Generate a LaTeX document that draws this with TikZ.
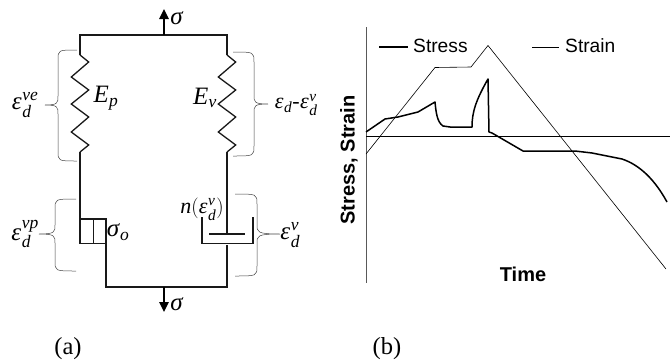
\documentclass[tikz,border=0pt]{standalone}
\usepackage{amsmath}
\usepackage{mathspec}
\setmainfont{Liberation Serif}
\setsansfont{Liberation Sans}
\setmathsfont(Latin,Greek)[Lowercase=Italic,Uppercase=Italic]{Liberation Serif}
\usetikzlibrary{arrows.meta}
\tikzset{
    rail/.style={line width=1.3pt, draw=black!90, line join=miter},
    pull/.style={line width=1.4pt, -{Triangle[width=9.5pt,length=10pt]}},
    curly/.style={line width=0.5pt, draw=black!75},
    symb/.style={inner sep=0pt, font=\fontsize{25}{25}\selectfont},
    symbsmall/.style={inner sep=0pt, font=\fontsize{22}{22}\selectfont},
    capt/.style={inner sep=0pt, font=\fontsize{24.5}{25}\selectfont},
    legend/.style={inner sep=0pt, font=\sffamily\fontsize{19.2}{19}\selectfont},
    axlabel/.style={inner sep=0pt, font=\sffamily\bfseries\fontsize{20}{20}\selectfont},
    stress/.style={line width=1.5pt, line join=round},
    strain/.style={line width=0.6pt},
    axisline/.style={line width=0.8pt, draw=black!65}
}
% end of the brace x, spine x, tip x, top y, middle y, bottom y
\newcommand{\curlybrace}[6]{%
    \draw[curly] (#1,#4) .. controls (#2,#4) and (#2,#4) .. (#2,#4+10)
        -- (#2,#5-9) .. controls (#2,#5-2) and (#2,#5) .. (#3,#5)
        .. controls (#2,#5) and (#2,#5+2) .. (#2,#5+9)
        -- (#2,#6-10) .. controls (#2,#6) and (#2,#6) .. (#1,#6);
}
\begin{document}
\begin{tikzpicture}[x=1pt, y=-1pt]
    \useasboundingbox (0,0) rectangle (670,362);

    % -----------------------------------------------------------------
    % MODEL (a)
    % -----------------------------------------------------------------
    \draw[rail] (80,55) -- (80,35) -- (227,35) -- (227,55);
    \foreach \x in {80,227} {
        \draw[rail] (\x,55) -- ++(8.7,7) -- ++(-17.4,15) -- ++(17.4,13) -- ++(-17.4,14)
            -- ++(17.4,13) -- ++(-17.4,15) -- ++(17.4,13) -- (\x,152);
    }
    \draw[rail] (80,152) -- (80,219);
    \draw[rail] (227,152) -- (227,234);

    % slider
    \draw[rail] (80,219) rectangle (106,243.5);
    \draw[rail] (93.5,219) -- (93.5,243.5);
    \draw[rail] (106,243.5) -- (106,287) -- (227,287) -- (227,245);

    % dashpot
    \draw[rail] (202,217) -- (202,243.5) -- (253,243.5) -- (253,217);
    \draw[rail] (209,234) -- (245,234);

    % load
    \draw[pull] (164,35) -- (164,9);
    \draw[pull] (164,287) -- (164,312);

    \curlybrace{77}{58}{45}{50}{105}{161}
    \curlybrace{233}{254}{268}{52}{104}{156}
    \curlybrace{76}{55}{39}{199}{234}{271}
    \curlybrace{235}{257}{280}{194}{234}{276}

    \node[symb] (sigtop) at (177,18) {$\sigma$};
    \node[symb] (sigbot) at (177,304) {$\sigma$};
    \node[symb] (ep) at (106,98) {$E_p$};
    \node[symb] (ev) at (205,98) {$E_v$};
    \node[symb] (so) at (118,232) {$\sigma_o$};
    \node[symbsmall] (visc) at (202,209) {$n(\epsilon_d^{v})$};
    \node[symb] (eve) at (25,105) {$\epsilon_d^{ve}$};
    \node[symb] (evp) at (25,234) {$\epsilon_d^{vp}$};
    \node[symbsmall] (edif) at (296,105) {$\epsilon_d\text{-}\epsilon_d^{v}$};
    \node[symb] (ev2) at (290,235) {$\epsilon_d^{v}$};
    \node[capt] (capa) at (68,349) {(a)};

    % -----------------------------------------------------------------
    % PLOT (b)
    % -----------------------------------------------------------------
    \draw[axisline] (366,27) -- (366,283);
    \draw[line width=0.6pt] (366,136.5) -- (670,136.5);

    \draw[strain] (366,154) -- (435,67.5) -- (471,67) -- (488,45.5) -- (666,269);
    \draw[stress] (366,132) -- (385,119) -- (398,117) -- (418,112) -- (435,102)
        .. controls (436,112) and (437,122) .. (443,126) -- (450,127) -- (472,127)
        .. controls (472,112) and (476,100) .. (488,79) -- (489,132) -- (492,133)
        -- (523,151) -- (575,151) -- (592,153) -- (622,159)
        .. controls (640,165) and (655,180) .. (667,202);

    \draw[stress] (379,47) -- (408,47);
    \draw[strain] (532,47) -- (559,47);
    \node[legend, anchor=west] (stresskey) at (413,46) {Stress};
    \node[legend, anchor=west] (strainkey) at (565,46) {Strain};

    \node[axlabel, rotate=90] (ylabel) at (349,160) {Stress, Strain};
    \node[axlabel] (xlabel) at (523,274) {Time};
    \node[capt] (capb) at (387,349) {(b)};
\end{tikzpicture}
\end{document}
